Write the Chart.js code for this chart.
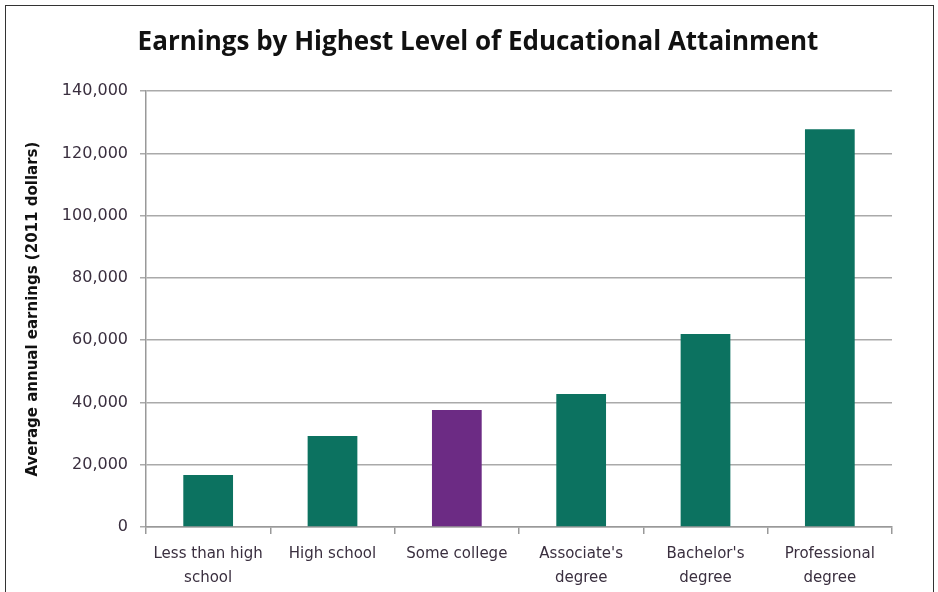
<!DOCTYPE html>
<html>
<head>
<meta charset="utf-8">
<script src="https://cdn.jsdelivr.net/npm/chart.js@4.4.1/dist/chart.umd.min.js"></script>
<style>
  html, body { margin: 0; padding: 0; background: #ffffff; }
  #wrap { position: relative; width: 938px; height: 592px; }
  #frame { position: absolute; left: 5px; top: 5px; width: 929px; height: 600px; border: 1.5px solid #333; box-sizing: border-box; pointer-events: none; }
  canvas { display: block; }
</style>
</head>
<body>
<div id="wrap">
  <canvas id="c" width="938" height="592"></canvas>
  <div id="frame"></div>
</div>
<script>
const categories = [["Less than high", "school"], "High school", "Some college", ["Associate's", "degree"], ["Bachelor's", "degree"], ["Professional", "degree"]];
const earnings = [16700, 29200, 37600, 42700, 62000, 127800];
const highlightIndex = 2;
const yTicks = [0, 20000, 40000, 60000, 80000, 100000, 120000, 140000];

const green = '#0c7260';
const purple = '#6c2b84';

new Chart(document.getElementById('c'), {
  type: 'bar',
  data: {
    labels: categories,
    datasets: [{
      data: earnings,
      yAxisID: 'y',
      backgroundColor: (ctx) => ctx.dataIndex === highlightIndex ? purple : green,
      borderWidth: 0,
      barPercentage: 0.4,
      categoryPercentage: 1.0
    }]
  },
  options: {
    responsive: false,
    animation: false,
    layout: { padding: { left: 18, right: 0, top: 0, bottom: 0 } },
    plugins: {
      legend: { display: false },
      tooltip: { enabled: false },
      title: {
        display: true,
        text: 'Earnings by Highest Level of Educational Attainment',
        color: '#111111',
        font: { family: 'Open Sans', size: 26, weight: 'bold', lineHeight: 1.2 },
        padding: { top: 27, bottom: 33 }
      }
    },
    scales: {
      x: {
        grid: { offset: true, drawOnChartArea: false, drawTicks: true, tickLength: 7, color: '#999999', lineWidth: 1.5 },
        border: { display: true, color: '#999999', width: 1.5 },
        ticks: {
          color: '#3a2f3f',
          font: { family: 'DejaVu Sans', size: 15, lineHeight: 1.6 },
          padding: 8,
          maxRotation: 0,
          autoSkip: false
        },
        afterFit: (s) => { s.height = 65; }
      },
      y: {
        position: 'left',
        min: 0,
        max: 140000,
        afterBuildTicks: (s) => { s.ticks = yTicks.map(v => ({ value: v })); },
        grid: { color: '#aaaaaa', lineWidth: 1.5, tickLength: 6, drawTicks: true },
        border: { display: true, color: '#999999', width: 1.5 },
        ticks: {
          color: '#3a2f3f',
          font: { family: 'DejaVu Sans', size: 16 },
          padding: 12,
          callback: (v) => v.toLocaleString('en-US')
        },
        title: {
          display: true,
          text: 'Average annual earnings (2011 dollars)',
          color: '#111111',
          font: { family: 'DejaVu Sans', size: 15, weight: 'bold', lineHeight: 1.2 },
          padding: { top: 6, bottom: 0 }
        },
        afterFit: (s) => { s.width = 128; }
      },
      yRight: {
        position: 'right',
        display: true,
        min: 0,
        max: 140000,
        grid: { display: false, drawOnChartArea: false },
        border: { display: false },
        ticks: { display: false },
        afterFit: (s) => { s.width = 46; }
      }
    }
  }
});
</script>
</body>
</html>
